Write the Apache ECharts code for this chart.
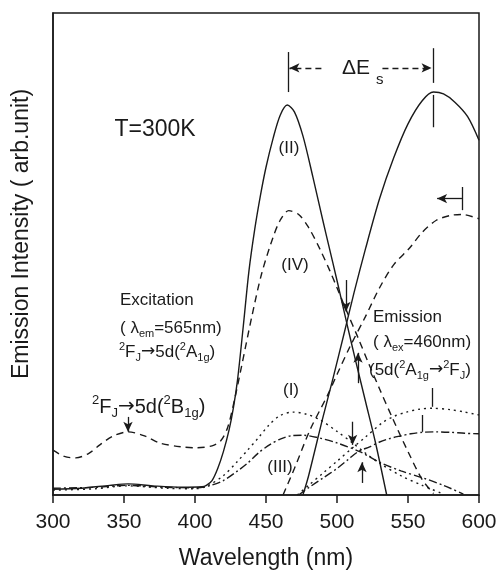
<!DOCTYPE html>
<html>
<head>
<meta charset="utf-8">
<script src="https://cdn.jsdelivr.net/npm/echarts@6/dist/echarts.min.js"></script>
<style>
  html, body { margin: 0; padding: 0; background: #fff; }
  #chart { width: 500px; height: 571px; }
</style>
</head>
<body>
<div id="chart"></div>
<script>
// wavelength ticks
var xTicks = [300, 350, 400, 450, 500, 550, 600];

// (II) solid - excitation
var excIIx = [300, 320, 340, 353, 370, 390, 405, 408, 412, 416, 420, 424, 427, 430, 434, 438, 442, 446, 450, 455, 460, 465, 470, 476, 483, 490, 494, 500, 507, 513, 520, 527, 535];
var excIIy = [1.2, 1.4, 2.0, 2.3, 1.9, 1.6, 1.7, 2.0, 3.0, 5.5, 9, 13.5, 18, 24, 35, 46.5, 55, 62, 68, 74, 78.8, 80.9, 79.5, 74.5, 66, 57, 52, 44.5, 35.5, 28, 19.5, 11, 0];
// (II) solid - emission
var emiIIx = [476, 480, 490, 497, 505, 512, 520, 530, 540, 550, 560, 568, 575, 583, 592, 600];
var emiIIy = [0, 4, 16, 24, 33.5, 42, 51, 61.5, 70, 77, 81.8, 83.6, 83.2, 81.5, 78.5, 73.6];

// (IV) dashed - excitation
var excIVx = [300, 308, 316, 325, 333, 342, 353, 365, 375, 390, 401, 412, 418, 423, 428, 433, 440, 447, 455, 460, 466, 473, 480, 488, 495, 500, 507, 515, 522, 530, 539, 550, 560, 568];
var excIVy = [9.3, 8.0, 7.7, 8.6, 10.4, 12.2, 13.1, 12.2, 10.8, 10.0, 9.8, 10.2, 11.2, 14, 20, 27, 37, 46, 53.5, 57, 59, 58.2, 55.5, 51, 46.5, 43, 38, 32.5, 27.5, 22, 16, 9, 3.2, 0.3];
// (IV) dashed - emission
var emiIVx = [462, 470, 481, 493, 500, 509, 520, 530, 540, 551, 560, 570, 580, 588, 600];
var emiIVy = [0, 5.5, 13.5, 20.5, 25, 30.7, 37, 43, 47.8, 51.2, 54.5, 57, 58, 58.2, 57.3];

// (I) dotted - excitation
var excIx = [300, 330, 352, 380, 400, 408, 420, 430, 437, 445, 452, 460, 469, 478, 488, 500, 511, 520, 530, 545, 560, 575];
var excIy = [1.0, 1.3, 1.9, 1.4, 1.3, 1.8, 4, 7, 9.3, 12, 14.5, 16.5, 17.2, 16.8, 15.6, 13.2, 10.8, 8.7, 6.6, 4, 2, 0.2];
// (I) dotted - emission
var emiIx = [472, 480, 490, 500, 511, 520, 532, 540, 549, 558, 567, 580, 590, 600];
var emiIy = [0, 2, 4.5, 7, 9.8, 12, 15, 16.3, 17.2, 17.8, 18, 17.7, 17.2, 16.6];

// (III) dash-dot - excitation
var excIIIx = [300, 330, 352, 380, 400, 410, 420, 430, 437, 445, 453, 460, 468, 476, 488, 500, 516, 530, 545, 561, 575, 589];
var excIIIy = [1.4, 1.6, 2.0, 1.6, 1.5, 1.9, 3, 5, 6.6, 8.8, 10.5, 11.6, 12.3, 12.4, 11.8, 10.8, 9, 6.8, 5, 3.5, 2, 0.2];
// (III) dash-dot - emission
var emiIIIx = [473, 480, 490, 500, 508, 515, 523, 530, 537, 544, 552, 560, 570, 580, 590, 600];
var emiIIIy = [0, 1.5, 3.5, 5.5, 7.4, 9, 10, 11, 11.7, 12.2, 12.7, 13, 13.1, 13, 12.8, 12.7];

function pts(xs, ys) {
  return xs.map(function (x, i) { return [x, ys[i]]; });
}

var FONT = "'Liberation Sans', Arial, sans-serif";
var INK = '#1a1a1a';

// short line helpers for annotations (data coordinates)
function seg(x1, y1, x2, y2) {
  return [{ coord: [x1, y1], symbol: 'none' }, { coord: [x2, y2], symbol: 'none' }];
}
function arrow(x1, y1, x2, y2, dashed) {
  return [
    { coord: [x1, y1], symbol: 'none', lineStyle: { type: dashed ? [6, 4] : 'solid' } },
    { coord: [x2, y2], symbol: 'arrow', symbolSize: [7, 10] }
  ];
}

function curve(name, data, type) {
  return {
    name: name,
    type: 'line',
    data: data,
    showSymbol: false,
    smooth: 0.3,
    lineStyle: { color: INK, width: 1.4, type: type },
    silent: true,
    z: 3
  };
}

var richBase = {
  n: { fontSize: 17, fontFamily: FONT, fill: INK, lineHeight: 22 },
  b: { fontSize: 20, fontFamily: FONT, fill: INK, lineHeight: 26 },
  ar: { fontSize: 17, fontFamily: 'DejaVu Sans', fill: INK, lineHeight: 22 },
  bar: { fontSize: 20, fontFamily: 'DejaVu Sans', fill: INK, lineHeight: 26 },
  sup: { fontSize: 11, fontFamily: FONT, fill: INK, verticalAlign: 'top', lineHeight: 12 },
  sub: { fontSize: 11, fontFamily: FONT, fill: INK, verticalAlign: 'bottom', lineHeight: 12 },
  bsup: { fontSize: 13, fontFamily: FONT, fill: INK, verticalAlign: 'top', lineHeight: 14 },
  bsub: { fontSize: 13, fontFamily: FONT, fill: INK, verticalAlign: 'bottom', lineHeight: 14 }
};

function txt(x, y, text, size, align) {
  return {
    type: 'text', x: x, y: y, silent: true,
    style: {
      text: text, rich: richBase,
      font: size + 'px ' + FONT, fill: INK,
      align: align || 'left', verticalAlign: 'middle',
      textAlign: align || 'left', textVerticalAlign: 'middle'
    }
  };
}

var chart = echarts.init(document.getElementById('chart'));

var option = {
  backgroundColor: '#fff',
  animation: false,
  grid: {
    left: 53, right: 21, top: 13, bottom: 76,
    outerBoundsMode: 'none',
    show: true, borderColor: INK, borderWidth: 1.5
  },
  xAxis: {
    type: 'value',
    min: xTicks[0], max: xTicks[xTicks.length - 1], interval: 50,
    name: 'Wavelength (nm)',
    nameLocation: 'middle', nameGap: 52,
    nameTextStyle: { fontFamily: FONT, fontSize: 23, color: INK },
    axisLine: { lineStyle: { color: INK, width: 1.5 } },
    axisTick: { inside: false, length: 8, lineStyle: { color: INK, width: 1.5 } },
    axisLabel: { fontFamily: FONT, fontSize: 21, color: INK, margin: 17 },
    splitLine: { show: false }
  },
  yAxis: {
    type: 'value', min: 0, max: 100,
    axisLine: { show: true, lineStyle: { color: INK, width: 1.5 } },
    axisTick: { show: false },
    axisLabel: { show: false },
    splitLine: { show: false }
  },
  series: [
    Object.assign(curve('(II) exc', pts(excIIx, excIIy), 'solid'), {
      markLine: {
        silent: true, animation: false,
        symbol: ['none', 'none'],
        label: { show: false },
        lineStyle: { color: INK, width: 1.3, type: 'solid' },
        data: [
          // ΔEs markers
          seg(465.5, 91.9, 465.5, 83.6),
          seg(567.6, 92.7, 567.6, 85.5),
          seg(567.6, 83.0, 567.6, 76.3),
          arrow(489, 88.6, 466.5, 88.6, true),
          arrow(532, 88.6, 566.6, 88.6, true),
          // emission dashed peak marker
          seg(588, 63.9, 588, 59.1),
          arrow(588, 61.5, 570.5, 61.5, false),
          // 2B1g arrow
          arrow(352.8, 16.2, 352.8, 13.1, false),
          // crossing arrows, upper
          arrow(506.3, 44.6, 506.3, 38, false),
          arrow(514.8, 23.2, 514.8, 29.5, false),
          // crossing arrows, lower
          arrow(511, 15.2, 511, 10.4, false),
          arrow(517.6, 2.5, 517.6, 6.8, false),
          // emission leader lines
          seg(567, 22.2, 567, 18.3),
          seg(560, 16.6, 560, 13.1)
        ]
      }
    }),
    curve('(II) emi', pts(emiIIx, emiIIy), 'solid'),
    curve('(IV) exc', pts(excIVx, excIVy), [7, 5]),
    curve('(IV) emi', pts(emiIVx, emiIVy), [7, 5]),
    curve('(I) exc', pts(excIx, excIy), [2, 4]),
    curve('(I) emi', pts(emiIx, emiIy), [2, 4]),
    curve('(III) exc', pts(excIIIx, excIIIy), [8, 3, 2, 3]),
    curve('(III) emi', pts(emiIIIx, emiIIIy), [8, 3, 2, 3])
  ],
  graphic: [
    {
      type: 'text', x: 22, y: 234, rotation: Math.PI / 2, silent: true,
      style: {
        text: 'Emission Intensity ( arb.unit)',
        font: '23px ' + FONT, fill: INK,
        align: 'center', verticalAlign: 'middle',
        textAlign: 'center', textVerticalAlign: 'middle'
      }
    },
    txt(155, 130, 'T=300K', 23, 'center'),
    txt(342, 68, 'ΔE', 21, 'left'),
    txt(376, 80, 's', 15, 'left'),
    txt(289, 148, '(II)', 17, 'center'),
    txt(295, 265, '(IV)', 17, 'center'),
    txt(291, 390, '(I)', 17, 'center'),
    txt(280, 467, '(III)', 17, 'center'),
    txt(120, 300, 'Excitation', 17, 'left'),
    txt(120, 328, '{n|( λ}{sub|em}{n|=565nm)}', 17, 'left'),
    txt(119, 352, '{sup|2}{n|F}{sub|J}{ar|→}{n|5d(}{sup|2}{n|A}{sub|1g}{n|)}', 17, 'left'),
    txt(92, 407, '{bsup|2}{b|F}{bsub|J}{bar|→}{b|5d(}{bsup|2}{b|B}{bsub|1g}{b|)}', 20, 'left'),
    txt(373, 317, 'Emission', 17, 'left'),
    txt(373, 342, '{n|( λ}{sub|ex}{n|=460nm)}', 17, 'left'),
    txt(369, 370, '{n|(5d(}{sup|2}{n|A}{sub|1g}{ar|→}{sup|2}{n|F}{sub|J}{n|)}', 17, 'left')
  ]
};

chart.setOption(option);
</script>
</body>
</html>
